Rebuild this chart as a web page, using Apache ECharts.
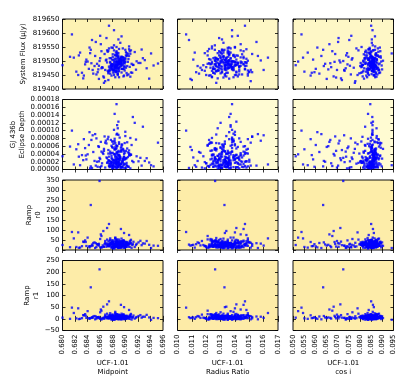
<!DOCTYPE html>
<html>
<head>
<meta charset="utf-8">
<script src="https://cdn.jsdelivr.net/npm/echarts@6/dist/echarts.min.js"></script>
<style>
  html, body { margin: 0; padding: 0; background: #fff; }
  #chart { width: 415px; height: 389px; }
</style>
</head>
<body>
<div id="chart"></div>
<script>
// MCMC samples (55 tail samples, then the core, then a wider core ring)
const midpoint = [
  0.6800, 0.6815, 0.6822, 0.6828, 0.6834, 0.6838, 0.6842, 0.6845, 0.6849, 0.6852,
  0.6855, 0.6858, 0.6859, 0.6861, 0.6863, 0.6865, 0.6867, 0.6868, 0.6870, 0.6871,
  0.6873, 0.6818, 0.6831, 0.6843, 0.6851, 0.6857, 0.6862, 0.6866, 0.6869, 0.6872,
  0.6826, 0.6836, 0.6847, 0.6854, 0.6860, 0.6864, 0.6868, 0.6874, 0.6840, 0.6856,
  0.6812, 0.6833, 0.6846, 0.6853, 0.6862, 0.6870, 0.6825, 0.6844, 0.6858, 0.6866,
  0.6871, 0.6848, 0.6837, 0.6860, 0.6873,
  0.6889, 0.6884, 0.6893, 0.6880, 0.6897, 0.6886, 0.6891, 0.6878, 0.6901, 0.6888,
  0.6883, 0.6895, 0.6890, 0.6876, 0.6887, 0.6899, 0.6885, 0.6892, 0.6881, 0.6904,
  0.6889, 0.6879, 0.6894, 0.6886, 0.6890, 0.6882, 0.6898, 0.6888, 0.6875, 0.6893,
  0.6887, 0.6902, 0.6884, 0.6891, 0.6880, 0.6896, 0.6889, 0.6877, 0.6893, 0.6885,
  0.6908, 0.6890, 0.6883, 0.6897, 0.6888, 0.6879, 0.6894, 0.6886, 0.6900, 0.6882,
  0.6891, 0.6887, 0.6874, 0.6895, 0.6889, 0.6884, 0.6912, 0.6892, 0.6881, 0.6898,
  0.6886, 0.6890, 0.6878, 0.6905, 0.6888, 0.6893, 0.6883, 0.6896, 0.6887, 0.6880,
  0.6918, 0.6889, 0.6885, 0.6892, 0.6876, 0.6899, 0.6886, 0.6891, 0.6882, 0.6924,
  0.6888, 0.6894, 0.6879, 0.6890, 0.6887, 0.6903, 0.6884, 0.6893, 0.6881, 0.6931,
  0.6889, 0.6886, 0.6897, 0.6877, 0.6892, 0.6885, 0.6915, 0.6890, 0.6883, 0.6895,
  0.6888, 0.6880, 0.6938, 0.6891, 0.6886, 0.6900, 0.6884, 0.6926, 0.6889, 0.6878,
  0.6893, 0.6887, 0.6945, 0.6882, 0.6896, 0.6890, 0.6885, 0.6909, 0.6888, 0.6921,
  0.6879, 0.6892, 0.6886, 0.6934, 0.6891, 0.6883, 0.6898, 0.6889, 0.6952, 0.6887,
  0.6881, 0.6894, 0.6913, 0.6886, 0.6890, 0.6941, 0.6884, 0.6897, 0.6888, 0.6928,
  0.6892, 0.6885, 0.6906, 0.6889, 0.6917,
  0.6874, 0.6903, 0.6878, 0.6907, 0.6881, 0.6900, 0.6876, 0.6896, 0.6910, 0.6879,
  0.6902, 0.6873, 0.6898, 0.6884, 0.6906, 0.6877, 0.6894, 0.6882, 0.6909, 0.6875,
  0.6899, 0.6886, 0.6904, 0.6880, 0.6897, 0.6872, 0.6901, 0.6883, 0.6911, 0.6878,
  0.6895, 0.6887, 0.6905, 0.6876, 0.6900, 0.6881, 0.6893, 0.6874, 0.6908, 0.6885,
  0.6898, 0.6879, 0.6902, 0.6890, 0.6877, 0.6906, 0.6884, 0.6896, 0.6873, 0.6903,
  0.6888, 0.6880, 0.6899, 0.6875, 0.6907, 0.6886, 0.6894, 0.6882, 0.6901, 0.6878
];

const radiusRatio = [
  0.0118, 0.0106, 0.0131, 0.0112, 0.0149, 0.0123, 0.0138, 0.01327, 0.0115, 0.0156,
  0.0127, 0.0109, 0.01262, 0.0144, 0.0120, 0.0134, 0.0152, 0.0117, 0.0129, 0.0141,
  0.0110, 0.0163, 0.0125, 0.0136, 0.0114, 0.0147, 0.0121, 0.0132, 0.0158, 0.0119,
  0.0139, 0.0126, 0.0108, 0.0143, 0.0130, 0.0116, 0.0151, 0.0124, 0.0137, 0.0113,
  0.0146, 0.0128, 0.0122, 0.0155, 0.0133, 0.0111, 0.0140, 0.0119, 0.0148, 0.0127,
  0.0135, 0.0160, 0.0124, 0.0142, 0.0130,
  0.0135, 0.0128, 0.0141, 0.0133, 0.0126, 0.0138, 0.0131, 0.0144, 0.0136, 0.0129,
  0.0139, 0.0134, 0.0124, 0.0142, 0.0132, 0.0137, 0.0127, 0.0146, 0.0135, 0.0130,
  0.0140, 0.0133, 0.0125, 0.0138, 0.0136, 0.0131, 0.0143, 0.0128, 0.0134, 0.0148,
  0.0137, 0.0132, 0.0123, 0.0139, 0.0135, 0.0129, 0.0141, 0.0134, 0.0127, 0.0145,
  0.0136, 0.0130, 0.0138, 0.0133, 0.0126, 0.0142, 0.0135, 0.0131, 0.0140, 0.0128,
  0.0137, 0.0134, 0.0147, 0.0132, 0.0125, 0.0139, 0.0136, 0.0130, 0.0143, 0.0133,
  0.0129, 0.0138, 0.0135, 0.0122, 0.0141, 0.0134, 0.0127, 0.0144, 0.0137, 0.0131,
  0.0136, 0.0128, 0.0140, 0.0133, 0.0149, 0.0135, 0.0130, 0.0138, 0.0126, 0.0142,
  0.0134, 0.0132, 0.0137, 0.0124, 0.0139, 0.0135, 0.0129, 0.0146, 0.0133, 0.0136,
  0.0131, 0.0141, 0.0127, 0.0138, 0.0134, 0.0150, 0.0130, 0.0137, 0.0135, 0.0125,
  0.0140, 0.0132, 0.0136, 0.0128, 0.0143, 0.0134, 0.0139, 0.0131, 0.0123, 0.0137,
  0.0135, 0.0145, 0.0129, 0.0138, 0.0133, 0.0136, 0.0126, 0.0141, 0.0134, 0.0130,
  0.0139, 0.0132, 0.0147, 0.0135, 0.0128, 0.0137, 0.0133, 0.0142, 0.0124, 0.0136,
  0.0131, 0.0138, 0.0134, 0.0127, 0.0144, 0.0135, 0.0130, 0.0140, 0.0133, 0.0137,
  0.0129, 0.0136, 0.0148, 0.0132, 0.0139,
  0.0128, 0.0141, 0.0122, 0.0146, 0.0133, 0.0125, 0.0149, 0.0137, 0.0121, 0.0143,
  0.0130, 0.0152, 0.0126, 0.0139, 0.0124, 0.0147, 0.0132, 0.0120, 0.0144, 0.0135,
  0.0127, 0.0150, 0.0131, 0.0123, 0.0142, 0.0136, 0.0129, 0.0148, 0.0125, 0.0140,
  0.0133, 0.0121, 0.0145, 0.0138, 0.0126, 0.0151, 0.0130, 0.0143, 0.0124, 0.0137,
  0.0147, 0.0128, 0.0134, 0.0122, 0.0141, 0.0139, 0.0127, 0.0149, 0.0132, 0.0123,
  0.0144, 0.0136, 0.0129, 0.0146, 0.0125, 0.0140, 0.0131, 0.0148, 0.0135, 0.0126
];

const cosI = [
  0.0512, 0.0538, 0.0551, 0.0566, 0.0579, 0.0590, 0.0602, 0.0635, 0.0618, 0.0627,
  0.0644, 0.0651, 0.0725, 0.0663, 0.0671, 0.0682, 0.0689, 0.0697, 0.0704, 0.0712,
  0.0719, 0.0545, 0.0584, 0.0609, 0.0638, 0.0658, 0.0676, 0.0693, 0.0708, 0.0731,
  0.0738, 0.0744, 0.0752, 0.0759, 0.0766, 0.0772, 0.0779, 0.0784, 0.0523, 0.0596,
  0.0748, 0.0715, 0.0667, 0.0702, 0.0736, 0.0763, 0.0789, 0.0742, 0.0755, 0.0777,
  0.0793, 0.0729, 0.0686, 0.0761, 0.0797,
  0.0852, 0.0861, 0.0838, 0.0857, 0.0869, 0.0846, 0.0855, 0.0872, 0.0831, 0.0859,
  0.0848, 0.0864, 0.0853, 0.0877, 0.0841, 0.0858, 0.0866, 0.0850, 0.0835, 0.0862,
  0.0856, 0.0844, 0.0870, 0.0853, 0.0827, 0.0860, 0.0849, 0.0874, 0.0857, 0.0839,
  0.0865, 0.0851, 0.0881, 0.0855, 0.0843, 0.0862, 0.0858, 0.0820, 0.0868, 0.0854,
  0.0847, 0.0863, 0.0836, 0.0859, 0.0871, 0.0852, 0.0845, 0.0866, 0.0856, 0.0886,
  0.0833, 0.0861, 0.0850, 0.0857, 0.0842, 0.0869, 0.0855, 0.0814, 0.0864, 0.0853,
  0.0848, 0.0876, 0.0858, 0.0840, 0.0862, 0.0851, 0.0867, 0.0829, 0.0856, 0.0860,
  0.0845, 0.0873, 0.0854, 0.0837, 0.0865, 0.0859, 0.0892, 0.0849, 0.0857, 0.0843,
  0.0863, 0.0852, 0.0808, 0.0868, 0.0855, 0.0846, 0.0879, 0.0858, 0.0834, 0.0861,
  0.0853, 0.0870, 0.0847, 0.0856, 0.0825, 0.0864, 0.0851, 0.0883, 0.0859, 0.0841,
  0.0866, 0.0854, 0.0818, 0.0860, 0.0848, 0.0875, 0.0857, 0.0838, 0.0863, 0.0852,
  0.0869, 0.0844, 0.0897, 0.0856, 0.0830, 0.0861, 0.0850, 0.0872, 0.0858, 0.0803,
  0.0865, 0.0853, 0.0846, 0.0878, 0.0855, 0.0836, 0.0862, 0.0849, 0.0888, 0.0857,
  0.0842, 0.0867, 0.0812, 0.0854, 0.0860, 0.0942, 0.0847, 0.0871, 0.0852, 0.0823,
  0.0864, 0.0856, 0.0839, 0.0859, 0.0884,
  0.0815, 0.0872, 0.0828, 0.0891, 0.0806, 0.0864, 0.0836, 0.0880, 0.0822, 0.0899,
  0.0843, 0.0811, 0.0876, 0.0832, 0.0868, 0.0801, 0.0885, 0.0840, 0.0858, 0.0819,
  0.0895, 0.0826, 0.0870, 0.0848, 0.0812, 0.0882, 0.0835, 0.0862, 0.0805, 0.0889,
  0.0845, 0.0824, 0.0878, 0.0816, 0.0867, 0.0839, 0.0893, 0.0809, 0.0874, 0.0831,
  0.0860, 0.0821, 0.0886, 0.0844, 0.0813, 0.0879, 0.0834, 0.0903, 0.0826, 0.0866,
  0.0850, 0.0817, 0.0883, 0.0838, 0.0871, 0.0807, 0.0890, 0.0846, 0.0823, 0.0875
];

const systemFlux = [
  819485, 819595, 819462, 819530, 819448, 819505, 819472, 819540, 819455, 819518,
  819490, 819436, 819500, 819560, 819478, 819445, 819525, 819468, 819582, 819495,
  819432, 819512, 819458, 819548, 819482, 819470, 819535, 819441, 819502, 819465,
  819520, 819488, 819575, 819452, 819510, 819476, 819428, 819545, 819498, 819460,
  819515, 819438, 819492, 819568, 819474, 819505, 819450, 819528, 819483, 819422,
  819538, 819468, 819497, 819590, 819456,
  819492, 819478, 819505, 819486, 819512, 819470, 819498, 819483, 819520, 819489,
  819475, 819502, 819465, 819494, 819530, 819481, 819508, 819488, 819458, 819497,
  819514, 819484, 819472, 819500, 819491, 819538, 819479, 819506, 819467, 819493,
  819485, 819518, 819476, 819499, 819547, 819487, 819462, 819510, 819482, 819495,
  819526, 819473, 819490, 819503, 819455, 819488, 819515, 819480, 819497, 819468,
  819509, 819484, 819626, 819492, 819471, 819522, 819486, 819501, 819463, 819494,
  819535, 819477, 819489, 819507, 819450, 819496, 819481, 819513, 819487, 819470,
  819499, 819528, 819483, 819504, 819466, 819491, 819517, 819479, 819556, 819493,
  819474, 819508, 819486, 819442, 819498, 819482, 819520, 819489, 819469, 819503,
  819577, 819485, 819511, 819476, 819495, 819460, 819532, 819488, 819500, 819472,
  819487, 819515, 819437, 819494, 819481, 819506, 819467, 819541, 819490, 819478,
  819499, 819524, 819484, 819610, 819471, 819502, 819488, 819459, 819512, 819493,
  819480, 819565, 819496, 819474, 819507, 819485, 819448, 819519, 819491, 819477,
  819503, 819588, 819486, 819464, 819498, 819527, 819482, 819495, 819453, 819510,
  819489, 819475, 819542, 819497, 819469,
  819465, 819520, 819448, 819535, 819478, 819510, 819455, 819545, 819490, 819470,
  819528, 819460, 819503, 819442, 819552, 819482, 819515, 819450, 819538, 819474,
  819498, 819462, 819526, 819488, 819445, 819533, 819476, 819508, 819458, 819548,
  819484, 819520, 819452, 819497, 819540, 819468, 819512, 819480, 819444, 819530,
  819472, 819505, 819457, 819543, 819486, 819518, 819463, 819501, 819537, 819449,
  819493, 819524, 819466, 819510, 819479, 819550, 819459, 819495, 819532, 819471
];

const eclipseDepth = [
  3.4e-5, 10.0e-5, 5.2e-5, 1.1e-5, 7.8e-5, 2.6e-5, 6.3e-5, 0.8e-5, 4.5e-5, 9.1e-5,
  2.0e-5, 5.8e-5, 3.0e-5, 7.1e-5, 1.6e-5, 4.0e-5, 8.5e-5, 0.5e-5, 6.7e-5, 2.9e-5,
  5.0e-5, 1.3e-5, 3.7e-5, 9.6e-5, 2.2e-5, 6.0e-5, 0.9e-5, 4.8e-5, 7.4e-5, 1.9e-5,
  3.3e-5, 5.5e-5, 0.4e-5, 8.0e-5, 2.7e-5, 4.3e-5, 6.9e-5, 1.5e-5, 3.9e-5, 0.7e-5,
  5.9e-5, 2.4e-5, 7.6e-5, 1.0e-5, 4.6e-5, 3.1e-5, 6.5e-5, 0.3e-5, 2.1e-5, 5.3e-5,
  1.7e-5, 8.8e-5, 3.6e-5, 0.6e-5, 4.1e-5,
  1.8e-5, 3.5e-5, 0.6e-5, 2.4e-5, 5.1e-5, 16.8e-5, 1.2e-5, 4.2e-5, 2.9e-5, 0.9e-5,
  7.3e-5, 2.1e-5, 3.8e-5, 1.5e-5, 6.0e-5, 0.4e-5, 2.7e-5, 4.6e-5, 1.0e-5, 3.2e-5,
  8.9e-5, 1.9e-5, 0.7e-5, 5.5e-5, 2.5e-5, 3.9e-5, 1.3e-5, 10.6e-5, 2.2e-5, 0.5e-5,
  4.4e-5, 1.7e-5, 6.8e-5, 3.0e-5, 0.8e-5, 2.6e-5, 12.3e-5, 1.4e-5, 4.9e-5, 2.0e-5,
  0.3e-5, 3.6e-5, 7.9e-5, 1.1e-5, 2.8e-5, 5.8e-5, 0.6e-5, 3.3e-5, 9.7e-5, 1.6e-5,
  2.3e-5, 4.1e-5, 0.9e-5, 6.4e-5, 1.8e-5, 3.1e-5, 13.5e-5, 0.5e-5, 2.5e-5, 4.7e-5,
  1.2e-5, 7.0e-5, 2.9e-5, 0.7e-5, 3.7e-5, 1.5e-5, 5.3e-5, 2.1e-5, 11.4e-5, 0.4e-5,
  3.4e-5, 1.9e-5, 6.2e-5, 2.6e-5, 0.8e-5, 4.3e-5, 1.3e-5, 8.2e-5, 2.3e-5, 3.0e-5,
  0.6e-5, 5.0e-5, 1.7e-5, 2.8e-5, 9.2e-5, 0.9e-5, 3.9e-5, 1.4e-5, 6.6e-5, 2.2e-5,
  4.5e-5, 0.5e-5, 1.6e-5, 7.6e-5, 3.2e-5, 2.0e-5, 12.0e-5, 1.1e-5, 4.0e-5, 0.7e-5,
  2.7e-5, 5.6e-5, 1.8e-5, 3.5e-5, 0.3e-5, 8.6e-5, 2.4e-5, 1.0e-5, 4.8e-5, 6.1e-5,
  1.5e-5, 3.1e-5, 0.8e-5, 10.2e-5, 2.6e-5, 1.2e-5, 5.2e-5, 3.8e-5, 0.6e-5, 2.1e-5,
  7.2e-5, 1.4e-5, 4.4e-5, 2.9e-5, 0.9e-5, 14.3e-5, 3.3e-5, 1.7e-5, 6.9e-5, 2.3e-5,
  0.4e-5, 4.6e-5, 1.9e-5, 9.0e-5, 3.6e-5, 1.1e-5, 5.7e-5, 2.5e-5, 0.7e-5, 11.0e-5,
  3.0e-5, 1.6e-5, 4.2e-5, 2.0e-5, 7.7e-5,
  2.3e-5, 5.4e-5, 0.8e-5, 3.6e-5, 7.2e-5, 1.4e-5, 4.1e-5, 0.5e-5, 6.3e-5, 2.8e-5,
  1.1e-5, 8.4e-5, 3.2e-5, 0.6e-5, 4.9e-5, 2.0e-5, 5.9e-5, 1.6e-5, 3.8e-5, 0.9e-5,
  6.8e-5, 2.5e-5, 4.4e-5, 1.2e-5, 3.0e-5, 7.8e-5, 0.4e-5, 5.1e-5, 2.2e-5, 3.5e-5,
  1.8e-5, 6.1e-5, 0.7e-5, 4.6e-5, 2.7e-5, 1.0e-5, 5.6e-5, 3.3e-5, 8.1e-5, 1.5e-5,
  4.0e-5, 0.3e-5, 2.9e-5, 6.6e-5, 1.9e-5, 3.7e-5, 0.8e-5, 5.3e-5, 2.4e-5, 7.0e-5,
  1.3e-5, 4.3e-5, 2.6e-5, 0.6e-5, 3.9e-5, 1.7e-5, 6.4e-5, 2.1e-5, 4.8e-5, 1.0e-5
];

const rampR0 = [
  25, 90, 15, 12, 40, 20, 18, 225, 35, 10,
  28, 22, 345, 78, 14, 95, 30, 45, 16, 110,
  24, 58, 19, 13, 38, 26, 70, 17, 32, 21,
  11, 48, 27, 15, 55, 23, 36, 18, 62, 29,
  14, 42, 20, 34, 12, 26, 88, 19, 31, 16,
  52, 22, 40, 13, 28,
  22, 30, 15, 38, 26, 18, 45, 12, 33, 24,
  28, 19, 52, 35, 21, 14, 40, 27, 9, 31,
  25, 36, 17, 48, 23, 29, 11, 42, 20, 34,
  26, 16, 55, 30, 22, 38, 13, 27, 44, 19,
  32, 24, 8, 36, 28, 47, 18, 25, 39, 21,
  15, 33, 130, 26, 41, 20, 29, 12, 37, 23,
  50, 17, 30, 27, 10, 35, 22, 43, 25, 14,
  31, 19, 38, 28, 58, 21, 33, 16, 26, 46,
  24, 11, 36, 29, 20, 40, 18, 105, 27, 32,
  13, 23, 49, 30, 25, 37, 15, 28, 21, 44,
  34, 9, 26, 39, 19, 31, 62, 24, 17, 35,
  27, 42, 22, 14, 33, 29, 20, 51, 25, 38,
  16, 30, 23, 45, 12, 28, 85, 34, 21, 26,
  36, 18, 41, 24, 31, 10, 29, 47, 22, 33,
  19, 27, 75, 35, 25,
  24, 36, 14, 42, 28, 18, 50, 31, 11, 38,
  26, 21, 45, 16, 33, 29, 57, 19, 35, 23,
  13, 40, 27, 48, 20, 32, 15, 44, 25, 37,
  22, 53, 17, 30, 41, 12, 34, 26, 46, 19,
  28, 39, 23, 14, 36, 31, 60, 21, 43, 27,
  18, 33, 25, 47, 16, 30, 38, 22, 35, 29
];

const rampR1 = [
  5, 48, 2, 0, 15, 4, 3, 135, 10, -2,
  6, 3, 212, 40, 1, 52, 8, 18, 2, 62,
  5, 25, 3, 0, 12, 6, 35, 2, 9, 4,
  -1, 20, 7, 1, 28, 4, 11, 3, 33, 7,
  0, 16, 4, 10, -3, 6, 45, 3, 8, 1,
  22, 4, 13, 0, 7,
  4, 8, 1, 12, 6, 2, 15, -2, 9, 5,
  7, 3, 18, 10, 4, 0, 13, 6, -3, 8,
  5, 11, 2, 16, 4, 7, -1, 14, 3, 10,
  6, 1, 20, 8, 4, 12, 0, 6, 15, 3,
  9, 5, -4, 11, 7, 17, 2, 5, 13, 4,
  1, 9, 75, 6, 14, 3, 7, -1, 11, 5,
  19, 2, 8, 6, -2, 10, 4, 15, 5, 0,
  8, 3, 12, 7, 24, 4, 9, 1, 6, 16,
  5, -3, 11, 7, 3, 13, 2, 60, 6, 9,
  0, 4, 18, 8, 5, 12, 1, 7, 3, 15,
  10, -2, 6, 13, 2, 8, 30, 5, 1, 11,
  7, 14, 4, 0, 9, 6, 3, 21, 5, 12,
  1, 8, 4, 17, -1, 7, 50, 10, 3, 6,
  11, 2, 14, 5, 8, -4, 7, 19, 4, 9,
  2, 6, 38, 11, 5,
  3, 9, -2, 13, 6, 1, 16, 7, -3, 11,
  5, 2, 14, 0, 8, 6, 22, 2, 10, 4,
  -1, 12, 6, 18, 3, 8, 0, 15, 5, 10,
  4, 20, 1, 7, 12, -2, 9, 5, 17, 2,
  6, 11, 4, -1, 10, 8, 25, 3, 13, 6,
  1, 9, 5, 16, 0, 7, 11, 3, 9, 6
];

// axis names and tick ranges
const xNames = ['UCF-1.01\nMidpoint', 'UCF-1.01\nRadius Ratio', 'UCF-1.01\ncos i'];
const yNames = ['System Flux (\u03bcJy)', 'GJ 436b\nEclipse Depth', 'Ramp\nr0', 'Ramp\nr1'];
const xMin = [0.680, 0.010, 0.050];
const xMax = [0.696, 0.017, 0.095];
const xStep = [0.002, 0.001, 0.005];
const yMin = [819400, 0, 0, -50];
const yMax = [819650, 0.00018, 350, 250];
const yStep = [50, 0.00002, 50, 50];

const colData = [midpoint, radiusRatio, cosI];
const rowData = [systemFlux, eclipseDepth, rampR0, rampR1];

// layout
const colLeft = [62.5, 177.5, 293];
const rowTop = [19, 99.5, 180, 260.5];
const panelW = 100.5;
const panelH = 70;
const panelBg = [
    ['#fdf2b3', '#fef7c5', '#fef7c6'],
    ['#fffbd3', '#fffbd3', '#fffbd2'],
    ['#fdeca8', '#fdeca8', '#fdeda9'],
    ['#fdeca8', '#fdeba7', '#fdeca9'],
];
const yNameGap = [35, 36, 13, 13];
const FONT = 'DejaVu Sans';

function yFmt(r) {
    return function (v) {
        if (r === 1) return v.toFixed(5);
        if (v < 0) return '\u2212' + Math.abs(v);
        return String(v);
    };
}

const grids = [];
const xAxes = [];
const yAxes = [];
const series = [];

const tickStyle = { show: true, inside: true, length: 3, lineStyle: { color: '#000', width: 0.8 } };

for (let r = 0; r < 4; r++) {
    for (let c = 0; c < 3; c++) {
        const k = r * 3 + c;
        grids.push({
            left: colLeft[c], top: rowTop[r], width: panelW, height: panelH,
            show: true, backgroundColor: panelBg[r][c],
            borderColor: '#111', borderWidth: 1,
        });
        const xBase = {
            type: 'value', gridIndex: k,
            min: xMin[c], max: xMax[c], interval: xStep[c],
            axisLine: { show: false }, splitLine: { show: false },
            axisTick: tickStyle,
        };
        xAxes.push(Object.assign({}, xBase, {
            position: 'bottom',
            axisLabel: {
                show: r === 3, rotate: 90, margin: 4, fontSize: 7, color: '#000', fontFamily: FONT,
                showMinLabel: true, showMaxLabel: true,
                formatter: function (v) { return v.toFixed(3); },
            },
            name: r === 3 ? xNames[c] : '',
            nameLocation: 'middle', nameGap: 22,
            nameTextStyle: { fontSize: 7, color: '#000', fontFamily: FONT, lineHeight: 9 },
        }));
        xAxes.push(Object.assign({}, xBase, { position: 'top', axisLabel: { show: false } }));

        const yBase = {
            type: 'value', gridIndex: k,
            min: yMin[r], max: yMax[r], interval: yStep[r],
            axisLine: { show: false }, splitLine: { show: false },
            axisTick: tickStyle,
        };
        yAxes.push(Object.assign({}, yBase, {
            position: 'left',
            axisLabel: {
                show: c === 0, margin: 3, fontSize: 7, color: '#000', fontFamily: FONT,
                showMinLabel: true, showMaxLabel: true,
                formatter: yFmt(r),
            },
            name: c === 0 ? yNames[r] : '',
            nameLocation: 'middle', nameRotate: 90, nameGap: yNameGap[r],
            nameTextStyle: { fontSize: 7, color: '#000', fontFamily: FONT, lineHeight: 9 },
        }));
        yAxes.push(Object.assign({}, yBase, { position: 'right', axisLabel: { show: false } }));

        const xs = colData[c];
        const ys = rowData[r];
        series.push({
            type: 'scatter',
            xAxisIndex: 2 * k, yAxisIndex: 2 * k,
            symbol: 'rect', symbolSize: 2.3,
            itemStyle: { color: '#0000ff' },
            silent: true,
            data: xs.map(function (x, i) { return [x, ys[i]]; }),
        });
    }
}

const chart = echarts.init(document.getElementById('chart'), null, { renderer: 'canvas' });
chart.setOption({
    animation: false,
    backgroundColor: '#fff',
    grid: grids,
    xAxis: xAxes,
    yAxis: yAxes,
    series: series,
});
</script>
</body>
</html>
